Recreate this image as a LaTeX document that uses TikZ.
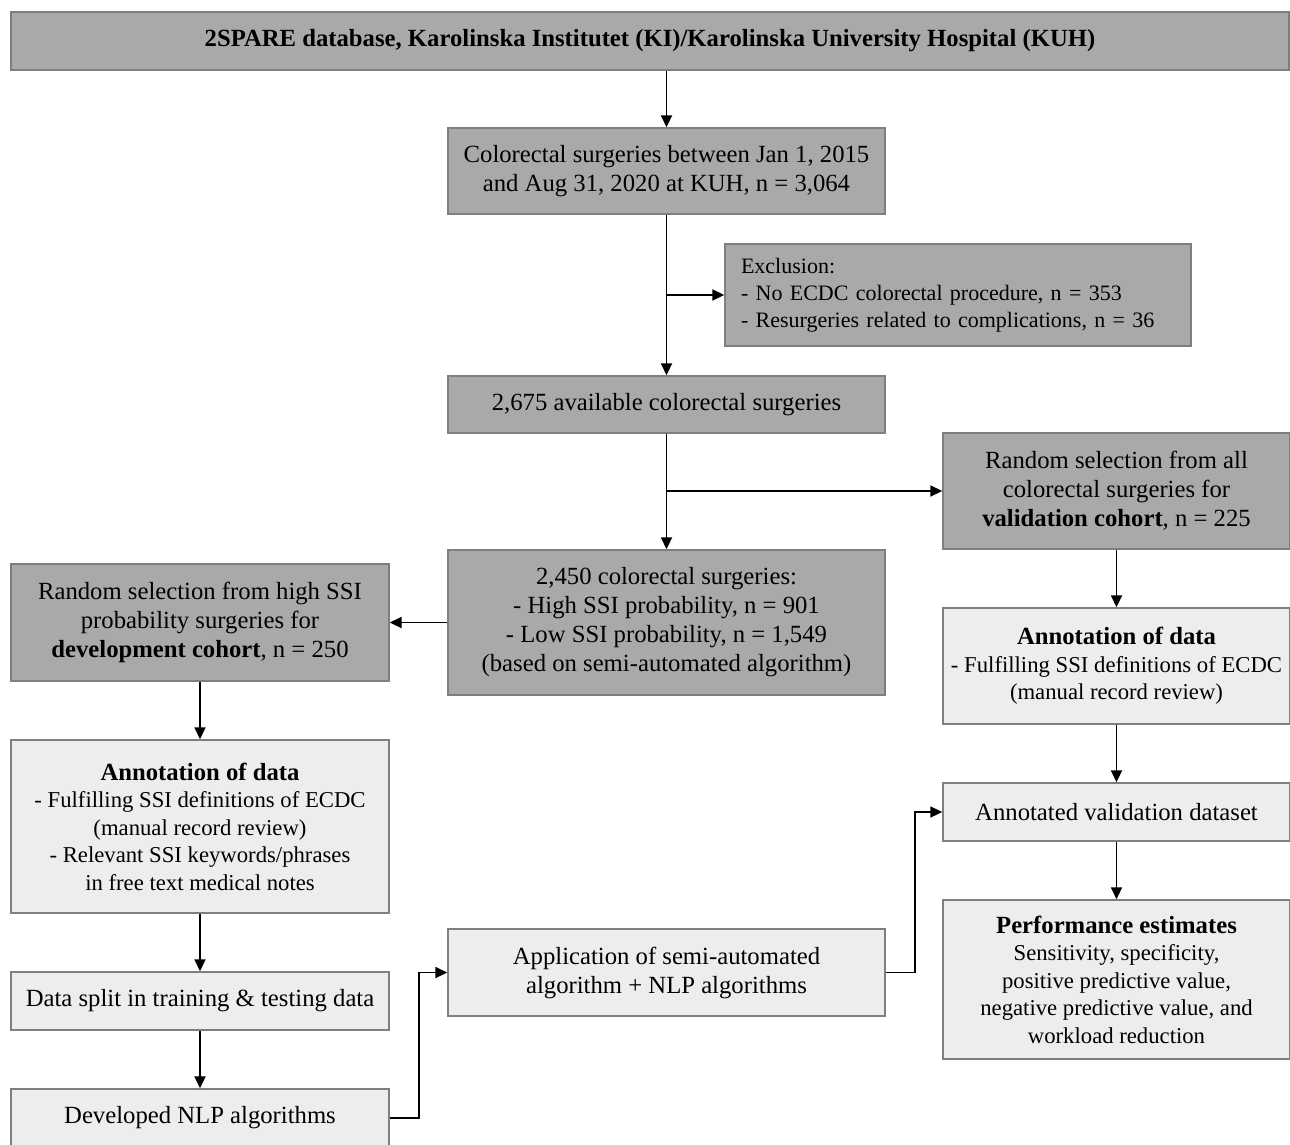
\documentclass[tikz,border=0pt]{standalone}
\usepackage{fontspec}
\setmainfont{Liberation Serif}
\usetikzlibrary{arrows.meta}
\definecolor{darkbox}{HTML}{A9A9A9}
\definecolor{lightbox}{HTML}{EDEDED}
\definecolor{edge}{HTML}{7F7F7F}
\newcommand{\boxtitle}[1]{{\fontsize{24.7}{27.5}\selectfont\bfseries #1}}
\begin{document}
\begin{tikzpicture}[x=1pt,y=-1pt,
  box/.style={draw=edge, line width=1.4pt, rectangle, inner sep=0pt, align=center,
    font=\fontsize{24.7}{29}\selectfont, text=black},
  dark/.style={box, fill=darkbox},
  light/.style={box, fill=lightbox},
  tight/.style={font=\fontsize{22.7}{27.5}\selectfont},
  conn/.style={draw=black, line width=1.8pt, -{Triangle[length=12pt,width=11pt]}}]
\useasboundingbox (0,0) rectangle (1290,1144);
\clip (0,0) rectangle (1290,1144);
\fill[white] (0,0) rectangle (1290,1144);

\node[dark, minimum width=1278, minimum height=58, font=\fontsize{24.7}{29}\selectfont\bfseries] (top) at (650,41)
  {2SPARE database, Karolinska Institutet (KI)/Karolinska University Hospital (KUH)};
\node[dark, minimum width=437, minimum height=86] (b2) at (666.5,171)
  {Colorectal surgeries between Jan 1, 2015\\and Aug 31, 2020 at KUH, n = 3,064};
\node[dark, minimum width=466, minimum height=102, align=left, text width=434,
  font=\fontsize{22}{27}\selectfont] (excl) at (958,295)
  {Exclusion:\\- No ECDC colorectal procedure, n = 353\\- Resurgeries related to complications, n = 36};
\node[dark, minimum width=437, minimum height=57] (b4) at (666.5,404.5)
  {2,675 available colorectal surgeries};
\node[dark, minimum width=347, minimum height=116] (val) at (1116.5,491)
  {Random selection from all\\colorectal surgeries for\\\textbf{validation cohort}, n = 225};
\node[dark, minimum width=437, minimum height=145] (b6) at (666.5,622.5)
  {2,450 colorectal surgeries:\\- High SSI probability, n = 901\\- Low SSI probability, n = 1,549\\(based on semi-automated algorithm)};
\node[dark, minimum width=378, minimum height=117] (dev) at (200,622.5)
  {Random selection from high SSI\\probability surgeries for\\\textbf{development cohort}, n = 250};
\node[light, tight, minimum width=347, minimum height=116] (annR) at (1116.5,666)
  {\boxtitle{Annotation of data}\\- Fulfilling SSI definitions of ECDC\\(manual record review)};
\node[light, tight, minimum width=378, minimum height=173] (annL) at (200,826.5)
  {\boxtitle{Annotation of data}\\- Fulfilling SSI definitions of ECDC\\(manual record review)\\- Relevant SSI keywords/phrases\\in free text medical notes};
\node[light, minimum width=347, minimum height=58] (annV) at (1116.5,812)
  {Annotated validation dataset};
\node[light, tight, minimum width=347, minimum height=159] (perf) at (1116.5,979.5)
  {\boxtitle{Performance estimates}\\Sensitivity, specificity,\\positive predictive value,\\negative predictive value, and\\workload reduction};
\node[light, minimum width=378, minimum height=58] (split) at (200,1001)
  {Data split in training \& testing data};
\node[light, minimum width=437, minimum height=87] (app) at (666.5,972.5)
  {Application of semi-automated\\algorithm + NLP algorithms};
\node[light, minimum width=378, minimum height=58] (nlp) at (200,1118)
  {Developed NLP algorithms};

\coordinate (j1) at (b2.south |- excl.west);
\coordinate (j2) at (b4.south |- val.west);
\draw[conn] (top.south -| b2.north) -- (b2.north);
\draw[conn] (b2.south) -- (b4.north);
\draw[conn] (j1) -- (excl.west);
\draw[conn] (b4.south) -- (b6.north);
\draw[conn] (j2) -- (val.west);
\draw[conn] (b6.west) -- (dev.east);
\draw[conn] (dev.south) -- (annL.north);
\draw[conn] (annL.south) -- (split.north);
\draw[conn] (split.south) -- (nlp.north);
\draw[conn] (nlp.east) -- ++(29,0) |- (app.west);
\draw[conn] (app.east) -- ++(29,0) |- (annV.west);
\draw[conn] (val.south) -- (annR.north);
\draw[conn] (annR.south) -- (annV.north);
\draw[conn] (annV.south) -- (perf.north);
\end{tikzpicture}
\end{document}
